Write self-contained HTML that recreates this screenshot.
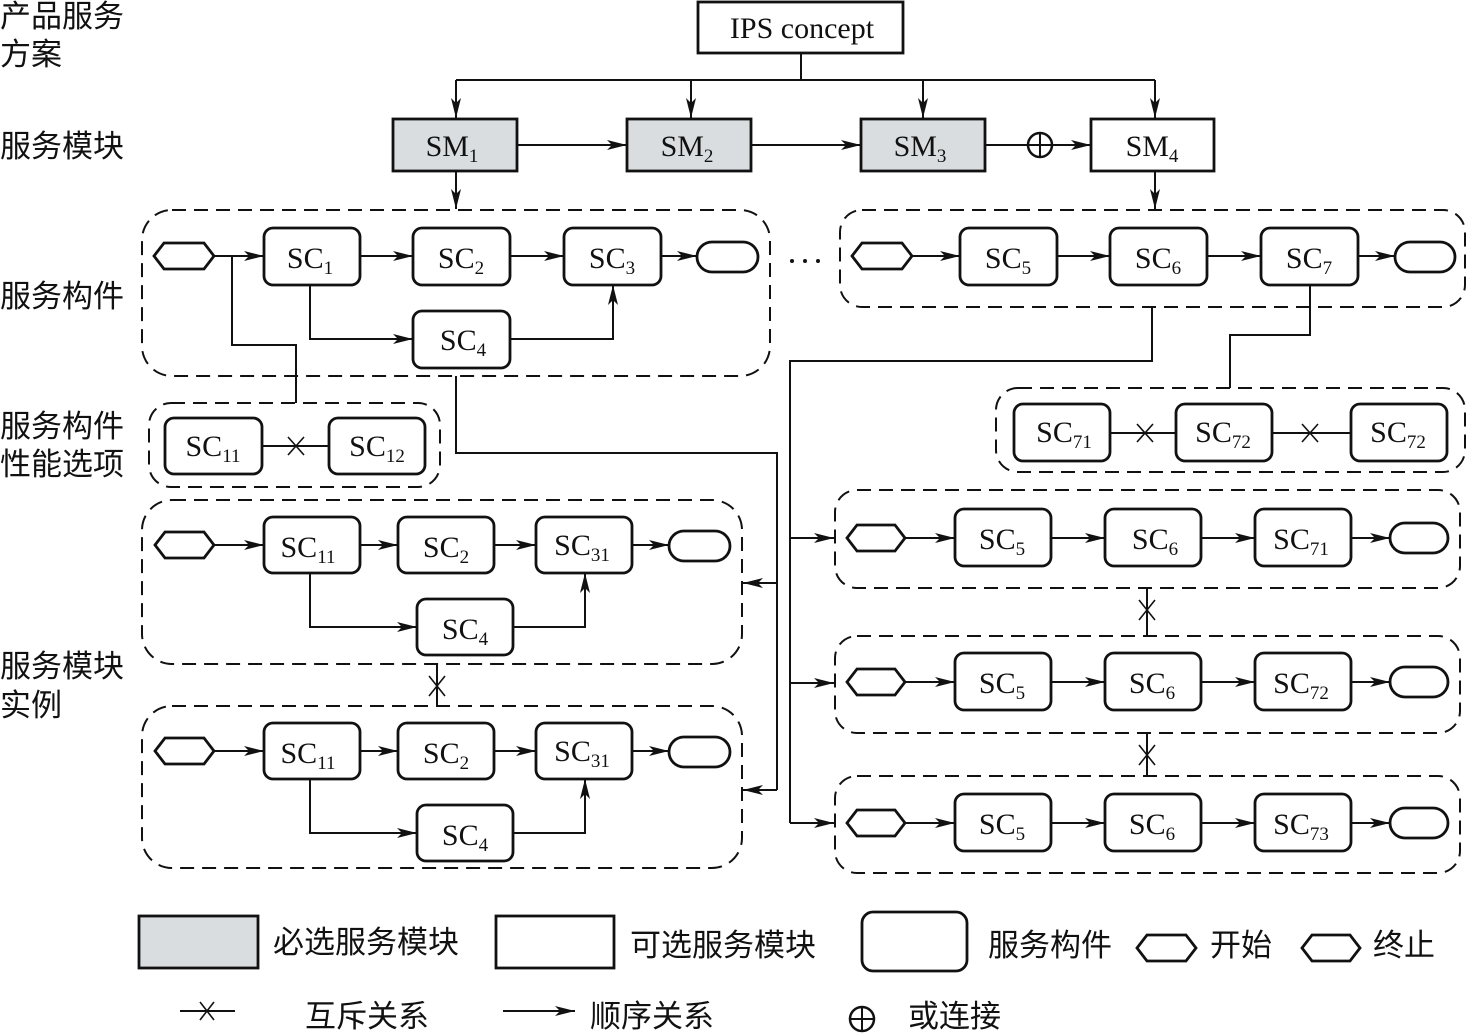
<!DOCTYPE html>
<html><head><meta charset="utf-8"><style>
html,body{margin:0;padding:0;background:#fff;}
svg{display:block;}
.t{font-family:"Liberation Serif",serif;font-size:30px;fill:#111;}
.s{font-size:19px;}
.cn{font-family:"Liberation Sans","Noto Sans CJK SC",sans-serif;font-size:31px;fill:#111;}
.b{fill:#fff;stroke:#111;stroke-width:2.8;}
.d{fill:none;stroke:#111;stroke-width:2;stroke-dasharray:14 8;}
.l{fill:none;stroke:#111;stroke-width:2;}
.x{stroke:#111;stroke-width:1.6;}
</style></head><body>
<svg width="1467" height="1036" viewBox="0 0 1467 1036" xmlns="http://www.w3.org/2000/svg">
<defs>
<marker id="a" viewBox="0 0 20 10" refX="20" refY="5" markerWidth="20" markerHeight="10" markerUnits="userSpaceOnUse" orient="auto">
<path d="M0,0 L20,5 L0,10 L5,5 Z" fill="#111"/></marker>
</defs>

<text class="cn" x="0" y="27">产品服务</text>
<text class="cn" x="0" y="65">方案</text>
<text class="cn" x="0" y="157">服务模块</text>
<text class="cn" x="0" y="307">服务构件</text>
<text class="cn" x="0" y="437">服务构件</text>
<text class="cn" x="0" y="475">性能选项</text>
<text class="cn" x="0" y="677">服务模块</text>
<text class="cn" x="0" y="716">实例</text>

<rect class="b" x="698" y="2" width="205" height="51"/>
<text class="t" x="802" y="38" text-anchor="middle">IPS concept</text>
<path class="l" d="M801,53 V80 M456,80 H1155"/>
<path class="l" marker-end="url(#a)" d="M456,80 V118"/>
<path class="l" marker-end="url(#a)" d="M691,80 V118"/>
<path class="l" marker-end="url(#a)" d="M923,80 V118"/>
<path class="l" marker-end="url(#a)" d="M1155,80 V118"/>

<rect class="b" style="fill:#d9dde0" x="393" y="119" width="124" height="52"/>
<rect class="b" style="fill:#d9dde0" x="627" y="119" width="124" height="52"/>
<rect class="b" style="fill:#d9dde0" x="861" y="119" width="124" height="52"/>
<rect class="b" x="1091" y="119" width="123" height="52"/>
<text class="t" x="452" y="156" text-anchor="middle">SM<tspan class="s" dy="6">1</tspan></text>
<text class="t" x="687" y="156" text-anchor="middle">SM<tspan class="s" dy="6">2</tspan></text>
<text class="t" x="920" y="156" text-anchor="middle">SM<tspan class="s" dy="6">3</tspan></text>
<text class="t" x="1152" y="156" text-anchor="middle">SM<tspan class="s" dy="6">4</tspan></text>
<path class="l" marker-end="url(#a)" d="M517,145 H627"/>
<path class="l" marker-end="url(#a)" d="M751,145 H861"/>
<path class="l" d="M985,145 H1028"/>
<circle cx="1040" cy="145" r="12" fill="none" stroke="#111" stroke-width="2.5"/>
<path class="l" d="M1028,145 H1052 M1040,133 V157"/>
<path class="l" marker-end="url(#a)" d="M1052,145 H1091"/>
<path class="l" marker-end="url(#a)" d="M456,171 V209"/>
<path class="l" marker-end="url(#a)" d="M1155,171 V209"/>

<rect class="d" x="142" y="210" width="628" height="166" rx="30"/>
<polygon class="b" points="154,256 164,243 204,243 214,256 204,269 164,269"/>
<rect class="b" x="264" y="228" width="96" height="57" rx="9"/>
<rect class="b" x="413" y="228" width="97" height="57" rx="9"/>
<rect class="b" x="564" y="228" width="97" height="57" rx="9"/>
<rect class="b" x="697" y="242" width="61" height="30" rx="15"/>
<rect class="b" x="413" y="311" width="97" height="57" rx="9"/>
<text class="t" x="310" y="268" text-anchor="middle">SC<tspan class="s" dy="6">1</tspan></text>
<text class="t" x="461" y="268" text-anchor="middle">SC<tspan class="s" dy="6">2</tspan></text>
<text class="t" x="612" y="268" text-anchor="middle">SC<tspan class="s" dy="6">3</tspan></text>
<text class="t" x="463" y="350" text-anchor="middle">SC<tspan class="s" dy="6">4</tspan></text>
<path class="l" marker-end="url(#a)" d="M214,256 H264"/>
<path class="l" marker-end="url(#a)" d="M360,256 H413"/>
<path class="l" marker-end="url(#a)" d="M510,256 H564"/>
<path class="l" marker-end="url(#a)" d="M661,256 H697"/>
<path class="l" marker-end="url(#a)" d="M310,285 V339 H413"/>
<path class="l" marker-end="url(#a)" d="M510,339 H613 V285"/>
<path class="l" d="M232,256 V345 H296 V403"/>
<circle cx="792" cy="261" r="2" fill="#111"/><circle cx="805" cy="261" r="2" fill="#111"/><circle cx="818" cy="261" r="2" fill="#111"/>

<rect class="d" x="149" y="403" width="291" height="84" rx="22"/>
<rect class="b" x="165" y="418" width="97" height="56" rx="9"/>
<rect class="b" x="329" y="418" width="96" height="56" rx="9"/>
<text class="t" x="213" y="456" text-anchor="middle">SC<tspan class="s" dy="6">11</tspan></text>
<text class="t" x="377" y="456" text-anchor="middle">SC<tspan class="s" dy="6">12</tspan></text>
<path class="l" d="M262,446 H329"/>
<path class="x" d="M288,437 L304,455 M304,437 L288,455"/>

<rect class="d" x="840" y="210" width="625" height="97" rx="22"/>
<polygon class="b" points="852,256 862,243 902,243 912,256 902,269 862,269"/>
<rect class="b" x="960" y="228" width="97" height="57" rx="9"/>
<rect class="b" x="1110" y="228" width="97" height="57" rx="9"/>
<rect class="b" x="1261" y="228" width="97" height="57" rx="9"/>
<rect class="b" x="1395" y="242" width="60" height="30" rx="15"/>
<text class="t" x="1008" y="268" text-anchor="middle">SC<tspan class="s" dy="6">5</tspan></text>
<text class="t" x="1158" y="268" text-anchor="middle">SC<tspan class="s" dy="6">6</tspan></text>
<text class="t" x="1309" y="268" text-anchor="middle">SC<tspan class="s" dy="6">7</tspan></text>
<path class="l" marker-end="url(#a)" d="M912,256 H960"/>
<path class="l" marker-end="url(#a)" d="M1057,256 H1110"/>
<path class="l" marker-end="url(#a)" d="M1207,256 H1261"/>
<path class="l" marker-end="url(#a)" d="M1358,256 H1395"/>
<path class="l" d="M1310,285 V335 H1230 V388"/>

<rect class="d" x="996" y="388" width="469" height="84" rx="22"/>
<rect class="b" x="1014" y="404" width="96" height="57" rx="9"/>
<rect class="b" x="1176" y="404" width="96" height="57" rx="9"/>
<rect class="b" x="1351" y="404" width="96" height="57" rx="9"/>
<text class="t" x="1064" y="442" text-anchor="middle">SC<tspan class="s" dy="6">71</tspan></text>
<text class="t" x="1223" y="442" text-anchor="middle">SC<tspan class="s" dy="6">72</tspan></text>
<text class="t" x="1398" y="442" text-anchor="middle">SC<tspan class="s" dy="6">72</tspan></text>
<path class="l" d="M1110,433 H1176 M1272,433 H1351"/>
<path class="x" d="M1137,424 L1153,442 M1153,424 L1137,442 M1302,424 L1318,442 M1318,424 L1302,442"/>

<path class="l" d="M456,376 V453 H777 V790"/>
<path class="l" marker-end="url(#a)" d="M777,583 H743"/>
<path class="l" marker-end="url(#a)" d="M777,790 H743"/>
<path class="l" d="M1152,307 V361 H790 V823"/>
<path class="l" marker-end="url(#a)" d="M790,538 H834"/>
<path class="l" marker-end="url(#a)" d="M790,683 H834"/>
<path class="l" marker-end="url(#a)" d="M790,823 H834"/>

<rect class="d" x="142" y="500" width="600" height="164" rx="30"/>
<polygon class="b" points="155,545 165,532 204,532 214,545 204,558 165,558"/>
<rect class="b" x="264" y="517" width="96" height="56" rx="9"/>
<rect class="b" x="398" y="517" width="96" height="56" rx="9"/>
<rect class="b" x="536" y="517" width="96" height="56" rx="9"/>
<rect class="b" x="669" y="531" width="61" height="30" rx="15"/>
<rect class="b" x="417" y="599" width="96" height="56" rx="9"/>
<text class="t" x="308" y="557" text-anchor="middle">SC<tspan class="s" dy="6">11</tspan></text>
<text class="t" x="446" y="557" text-anchor="middle">SC<tspan class="s" dy="6">2</tspan></text>
<text class="t" x="582" y="555" text-anchor="middle">SC<tspan class="s" dy="6">31</tspan></text>
<text class="t" x="465" y="639" text-anchor="middle">SC<tspan class="s" dy="6">4</tspan></text>
<path class="l" marker-end="url(#a)" d="M214,545 H264"/>
<path class="l" marker-end="url(#a)" d="M360,545 H398"/>
<path class="l" marker-end="url(#a)" d="M494,545 H536"/>
<path class="l" marker-end="url(#a)" d="M632,545 H669"/>
<path class="l" marker-end="url(#a)" d="M310,573 V627 H417"/>
<path class="l" marker-end="url(#a)" d="M513,627 H585 V573"/>

<path class="l" d="M437,664 V706"/>
<path class="x" d="M429,676 L445,696 M445,676 L429,696"/>

<rect class="d" x="142" y="706" width="600" height="162" rx="30"/>
<polygon class="b" points="155,751 165,738 204,738 214,751 204,764 165,764"/>
<rect class="b" x="264" y="723" width="96" height="56" rx="9"/>
<rect class="b" x="398" y="723" width="96" height="56" rx="9"/>
<rect class="b" x="536" y="723" width="96" height="56" rx="9"/>
<rect class="b" x="669" y="737" width="61" height="30" rx="15"/>
<rect class="b" x="417" y="805" width="96" height="56" rx="9"/>
<text class="t" x="308" y="763" text-anchor="middle">SC<tspan class="s" dy="6">11</tspan></text>
<text class="t" x="446" y="763" text-anchor="middle">SC<tspan class="s" dy="6">2</tspan></text>
<text class="t" x="582" y="761" text-anchor="middle">SC<tspan class="s" dy="6">31</tspan></text>
<text class="t" x="465" y="845" text-anchor="middle">SC<tspan class="s" dy="6">4</tspan></text>
<path class="l" marker-end="url(#a)" d="M214,751 H264"/>
<path class="l" marker-end="url(#a)" d="M360,751 H398"/>
<path class="l" marker-end="url(#a)" d="M494,751 H536"/>
<path class="l" marker-end="url(#a)" d="M632,751 H669"/>
<path class="l" marker-end="url(#a)" d="M310,779 V833 H417"/>
<path class="l" marker-end="url(#a)" d="M513,833 H585 V779"/>

<rect class="d" x="835" y="490" width="625" height="98" rx="22"/>
<polygon class="b" points="847,538 857,525 895,525 905,538 895,551 857,551"/>
<rect class="b" x="955" y="509" width="96" height="57" rx="9"/>
<rect class="b" x="1105" y="509" width="96" height="57" rx="9"/>
<rect class="b" x="1255" y="509" width="96" height="57" rx="9"/>
<rect class="b" x="1390" y="523" width="58" height="30" rx="15"/>
<text class="t" x="1002" y="549" text-anchor="middle">SC<tspan class="s" dy="6">5</tspan></text>
<text class="t" x="1155" y="549" text-anchor="middle">SC<tspan class="s" dy="6">6</tspan></text>
<text class="t" x="1301" y="549" text-anchor="middle">SC<tspan class="s" dy="6">71</tspan></text>
<path class="l" marker-end="url(#a)" d="M905,538 H955"/>
<path class="l" marker-end="url(#a)" d="M1051,538 H1105"/>
<path class="l" marker-end="url(#a)" d="M1201,538 H1255"/>
<path class="l" marker-end="url(#a)" d="M1351,538 H1390"/>

<path class="l" d="M1147,588 V636"/>
<path class="x" d="M1139,600 L1155,620 M1155,600 L1139,620"/>

<rect class="d" x="835" y="636" width="625" height="97" rx="22"/>
<polygon class="b" points="847,682 857,669 895,669 905,682 895,695 857,695"/>
<rect class="b" x="955" y="653" width="96" height="57" rx="9"/>
<rect class="b" x="1105" y="653" width="96" height="57" rx="9"/>
<rect class="b" x="1255" y="653" width="96" height="57" rx="9"/>
<rect class="b" x="1390" y="667" width="58" height="30" rx="15"/>
<text class="t" x="1002" y="693" text-anchor="middle">SC<tspan class="s" dy="6">5</tspan></text>
<text class="t" x="1152" y="693" text-anchor="middle">SC<tspan class="s" dy="6">6</tspan></text>
<text class="t" x="1301" y="693" text-anchor="middle">SC<tspan class="s" dy="6">72</tspan></text>
<path class="l" marker-end="url(#a)" d="M905,682 H955"/>
<path class="l" marker-end="url(#a)" d="M1051,682 H1105"/>
<path class="l" marker-end="url(#a)" d="M1201,682 H1255"/>
<path class="l" marker-end="url(#a)" d="M1351,682 H1390"/>

<path class="l" d="M1147,733 V776"/>
<path class="x" d="M1139,745 L1155,765 M1155,745 L1139,765"/>

<rect class="d" x="835" y="776" width="625" height="97" rx="22"/>
<polygon class="b" points="847,823 857,810 895,810 905,823 895,836 857,836"/>
<rect class="b" x="955" y="794" width="96" height="57" rx="9"/>
<rect class="b" x="1105" y="794" width="96" height="57" rx="9"/>
<rect class="b" x="1255" y="794" width="96" height="57" rx="9"/>
<rect class="b" x="1390" y="808" width="58" height="30" rx="15"/>
<text class="t" x="1002" y="834" text-anchor="middle">SC<tspan class="s" dy="6">5</tspan></text>
<text class="t" x="1152" y="834" text-anchor="middle">SC<tspan class="s" dy="6">6</tspan></text>
<text class="t" x="1301" y="834" text-anchor="middle">SC<tspan class="s" dy="6">73</tspan></text>
<path class="l" marker-end="url(#a)" d="M905,823 H955"/>
<path class="l" marker-end="url(#a)" d="M1051,823 H1105"/>
<path class="l" marker-end="url(#a)" d="M1201,823 H1255"/>
<path class="l" marker-end="url(#a)" d="M1351,823 H1390"/>

<rect class="b" style="fill:#d9dde0" x="139" y="916" width="119" height="52"/>
<text class="cn" x="273" y="953">必选服务模块</text>
<rect class="b" x="496" y="916" width="118" height="52"/>
<text class="cn" x="630" y="956">可选服务模块</text>
<rect class="b" x="862" y="912" width="105" height="59" rx="11"/>
<text class="cn" x="988" y="956">服务构件</text>
<polygon class="b" points="1137,948 1147,935 1186,935 1196,948 1186,961 1147,961"/>
<text class="cn" x="1210" y="956">开始</text>
<polygon class="b" points="1302,948 1312,935 1350,935 1360,948 1350,961 1312,961"/>
<text class="cn" x="1373" y="956">终止</text>
<path class="l" d="M180,1011 H235"/>
<path class="x" d="M200,1002 L214,1020 M214,1002 L200,1020"/>
<text class="cn" x="305" y="1027">互斥关系</text>
<path class="l" marker-end="url(#a)" d="M503,1011 H575"/>
<text class="cn" x="590" y="1027">顺序关系</text>
<circle cx="862" cy="1019" r="12" fill="none" stroke="#111" stroke-width="2.5"/>
<path class="l" d="M850,1019 H874 M862,1007 V1031"/>
<text class="cn" x="908" y="1027">或连接</text>
</svg>
</body></html>
